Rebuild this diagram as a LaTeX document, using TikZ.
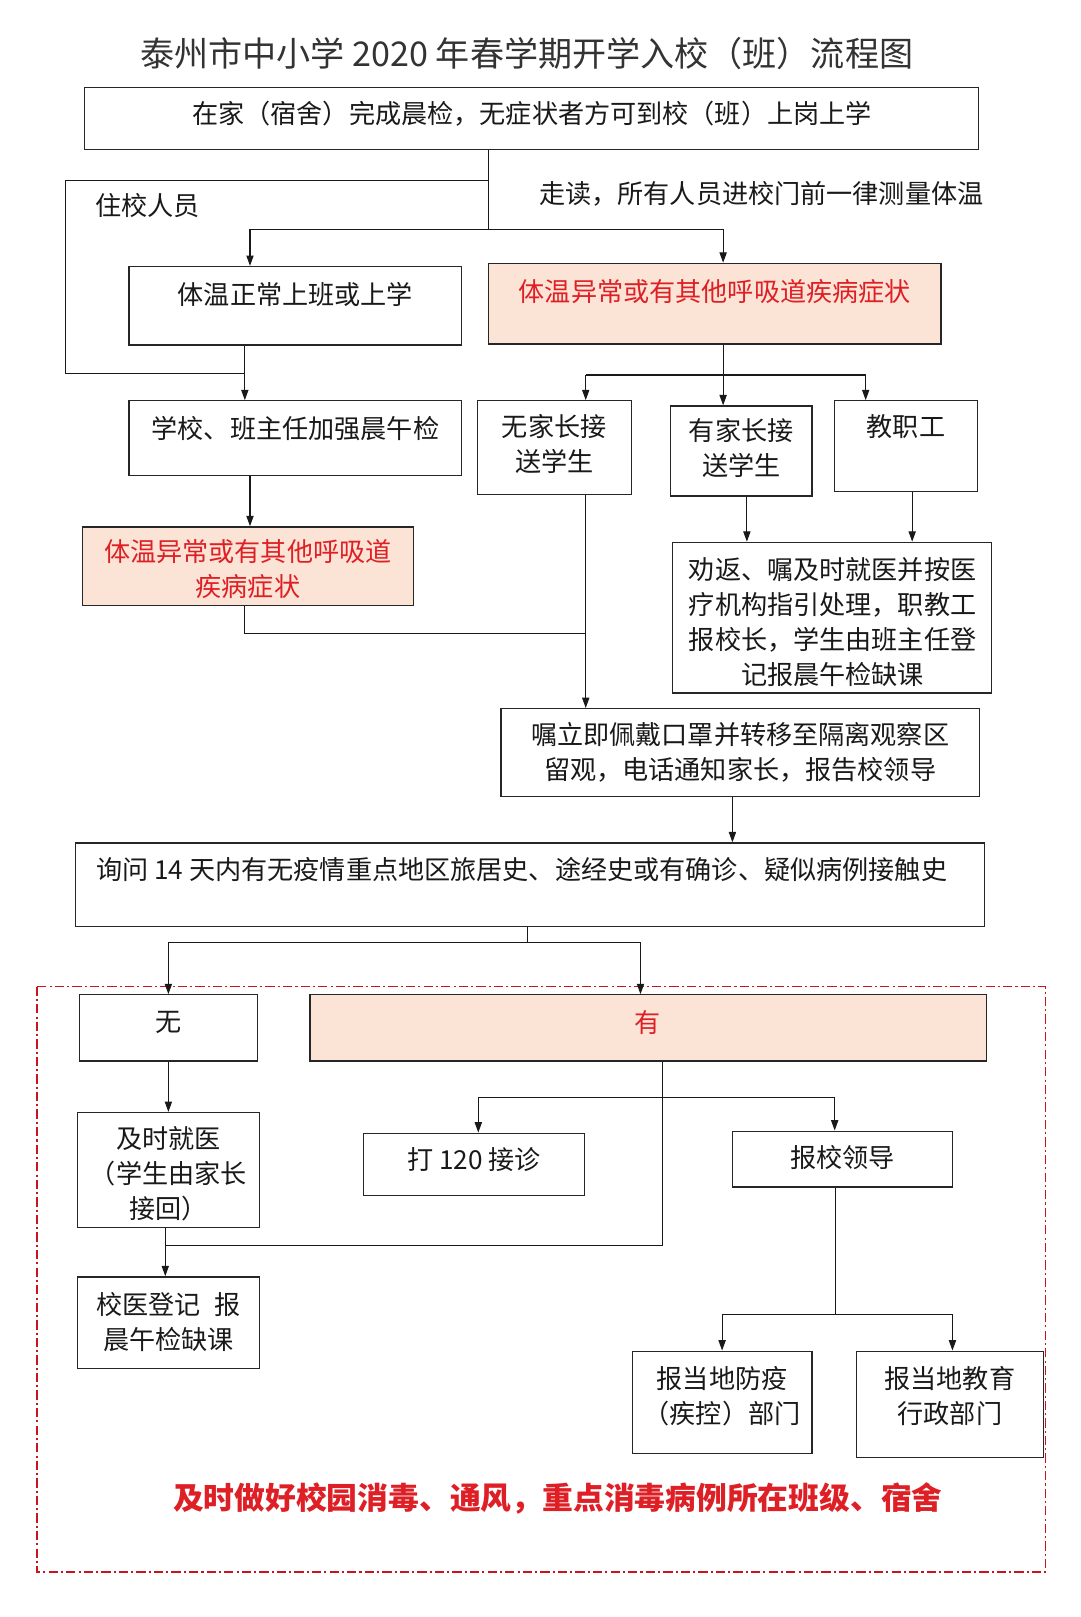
\documentclass[tikz,border=0pt]{standalone}
\usepackage{fontspec}
\setmainfont{Noto Sans CJK SC}
\usetikzlibrary{arrows.meta}
\definecolor{pinkfill}{RGB}{251,228,214}
\definecolor{redtxt}{RGB}{222,32,38}
\definecolor{dashred}{RGB}{200,20,30}
\tikzset{
  box/.style={draw=black!85, line width=1.3pt, rectangle, inner sep=0pt},
  pinkbox/.style={box, fill=pinkfill},
  txt/.style={inner sep=0pt, align=center, font=\fontsize{25.3}{34}\selectfont, text=black!90},
  redt/.style={txt, text=redtxt},
  ln/.style={line width=1pt, draw=black!90},
  arr/.style={ln, -{Triangle[length=10pt,width=7pt]}},
}
\begin{document}
\begin{tikzpicture}[x=1pt,y=-1pt]
\useasboundingbox (0,0) rectangle (1045.5,1565.3);
% title
\node[inner sep=0pt, font=\fontsize{33}{36}\selectfont, text=black!80] (title) at (510,52) {泰州市中小学 2020 年春学期开学入校（班）流程图};
% boxes
\node[box, minimum width=865, minimum height=60] (A) at (514.5,115) {};
\node[box, minimum width=322, minimum height=76] (B) at (286,296) {};
\node[pinkbox, minimum width=438, minimum height=78] (R1) at (692,294) {};
\node[box, minimum width=322, minimum height=72] (C) at (286,424) {};
\node[box, minimum width=149, minimum height=91] (D) at (536.5,433.5) {};
\node[box, minimum width=137, minimum height=87] (E) at (717.5,436.5) {};
\node[box, minimum width=138, minimum height=88] (F) at (877,432) {};
\node[pinkbox, minimum width=320, minimum height=76] (G) at (240,548) {};
\node[box, minimum width=309, minimum height=146] (H) at (805.5,598) {};
\node[box, minimum width=463, minimum height=85] (I) at (716.5,728.5) {};
\node[box, minimum width=880, minimum height=81] (J) at (513,856.5) {};
\node[box, minimum width=172, minimum height=64] (K) at (163,995) {};
\node[pinkbox, minimum width=655, minimum height=64] (L) at (627.5,995) {};
\node[box, minimum width=176, minimum height=111] (M) at (163,1132.5) {};
\node[box, minimum width=176, minimum height=89] (N) at (163,1280.5) {};
\node[box, minimum width=214, minimum height=60] (O) at (459,1127) {};
\node[box, minimum width=213, minimum height=54] (P) at (815.5,1122) {};
\node[box, minimum width=174, minimum height=99] (Q) at (699,1357.5) {};
\node[box, minimum width=181, minimum height=103] (R) at (919.5,1359.5) {};
% dashed region
\draw[dashred, line width=1.7pt, dash pattern=on 9pt off 3pt on 2pt off 3pt] (36,955) rectangle (1012,1522);
% texts
\node[txt] (At) at (515,110) {在家（宿舍）完成晨检，无症状者方可到校（班）上岗上学};
\node[txt] (zx) at (143,199) {住校人员};
\node[txt] (zd) at (737,188) {走读，所有人员进校门前一律测量体温};
\node[txt] (Bt) at (286,285) {体温正常上班或上学};
\node[redt] (R1t) at (692,282) {体温异常或有其他呼吸道疾病症状};
\node[txt] (Ct) at (286,415) {学校、班主任加强晨午检};
\node[txt] (Dt) at (536.5,430) {无家长接\\送学生};
\node[txt] (Et) at (717.5,434) {有家长接\\送学生};
\node[txt] (Ft) at (877,413) {教职工};
\node[redt] (Gt) at (240,551) {体温异常或有其他呼吸道\\疾病症状};
\node[txt] (Ht) at (806,602) {劝返、嘱及时就医并按医\\疗机构指引处理，职教工\\报校长，学生由班主任登\\记报晨午检缺课};
\node[txt] (It) at (716.5,728.5) {嘱立即佩戴口罩并转移至隔离观察区\\留观，电话通知家长，报告校领导};
\node[txt] (Jt) at (505,842) {询问 14 天内有无疫情重点地区旅居史、途经史或有确诊、疑似病例接触史};
\node[txt] (Kt) at (163,990) {无};
\node[redt] (Lt) at (627,990) {有};
\node[txt] (Mt) at (163,1136) {及时就医\\（学生由家长\\接回）};
\node[txt] (Nt) at (163,1280) {校医登记\enspace 报\\晨午检缺课};
\node[txt] (Ot) at (459,1122) {打 120 接诊};
\node[txt] (Pt) at (815.5,1121) {报校领导};
\node[txt] (Qt) at (699,1351.5) {报当地防疫\\（疾控）部门};
\node[txt] (Rt) at (919.5,1351.5) {报当地教育\\行政部门};
\node[inner sep=0pt, font=\fontsize{29.8}{34}\selectfont\bfseries, text=redtxt] (bot) at (540,1451) {及时做好校园消毒、通风，重点消毒病例所在班级、宿舍};
% coordinates
\coordinate (a1) at (473,175);
\coordinate (a2) at (473,222);
\coordinate (lft1) at (63,175);
\coordinate (lft2) at (63,362);
\coordinate (j1) at (237,362);
\coordinate (bx) at (242,222);
\coordinate (rx) at (700,222);
\coordinate (r2) at (700,363);
\coordinate (dl) at (567,363);
\coordinate (fr) at (838,363);
\coordinate (cgx) at (242,500);
\coordinate (g1) at (237,613);
\coordinate (g2) at (567,613);
\coordinate (eh) at (723,500);
\coordinate (fh) at (883,500);
\coordinate (ij) at (709,790);
\coordinate (jj) at (511,912);
\coordinate (kx) at (163,912);
\coordinate (lx) at (620,912);
\coordinate (l1) at (641,1062);
\coordinate (l2) at (641,1206);
\coordinate (mn) at (160,1206);
\coordinate (ox) at (463,1062);
\coordinate (px) at (808,1062);
\coordinate (p1) at (809,1272);
\coordinate (qx) at (699,1272);
\coordinate (rx2) at (922,1272);
% connectors
\draw[ln] (A.south -| a1) -- (a2);
\draw[ln] (a1) -- (lft1) -- (lft2) -- (j1);
\draw[arr] (B.south -| j1) -- (C.north -| j1);
\draw[ln] (bx) -- (rx);
\draw[arr] (bx) -- (B.north -| bx);
\draw[arr] (rx) -- (R1.north -| rx);
\draw[arr] (R1.south -| r2) -- (E.north -| r2);
\draw[ln] (dl) -- (fr);
\draw[arr] (dl) -- (D.north -| dl);
\draw[arr] (fr) -- (F.north -| fr);
\draw[arr] (C.south -| cgx) -- (G.north -| cgx);
\draw[ln] (G.south -| g1) -- (g1) -- (g2);
\draw[arr] (D.south -| dl) -- (I.north -| dl);
\draw[arr] (E.south -| eh) -- (H.north -| eh);
\draw[arr] (F.south -| fh) -- (H.north -| fh);
\draw[arr] (I.south -| ij) -- (J.north -| ij);
\draw[ln] (J.south -| jj) -- (jj);
\draw[ln] (kx) -- (lx);
\draw[arr] (kx) -- (K.north -| kx);
\draw[arr] (lx) -- (L.north -| lx);
\draw[arr] (K.south -| kx) -- (M.north -| kx);
\draw[ln] (L.south -| l1) -- (l2) -- (mn);
\draw[ln] (ox) -- (px);
\draw[arr] (ox) -- (O.north -| ox);
\draw[arr] (px) -- (P.north -| px);
\draw[arr] (M.south -| mn) -- (N.north -| mn);
\draw[ln] (P.south -| p1) -- (p1);
\draw[ln] (qx) -- (rx2);
\draw[arr] (qx) -- (Q.north -| qx);
\draw[arr] (rx2) -- (R.north -| rx2);
\end{tikzpicture}
\end{document}
